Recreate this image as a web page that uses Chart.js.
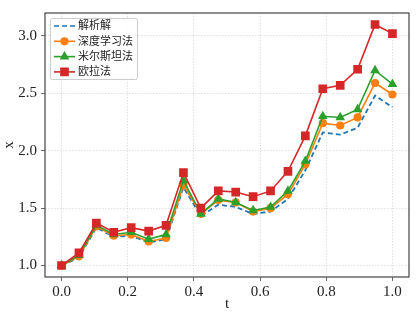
<!DOCTYPE html>
<html>
<head>
<meta charset="utf-8">
<script src="https://cdn.jsdelivr.net/npm/chart.js@4.4.1/dist/chart.umd.min.js"></script>
<style>
  html, body { margin: 0; padding: 0; background: #fff; }
  #wrap { width: 416px; height: 316px; }
</style>
</head>
<body>
<div id="wrap"><canvas id="c" width="416" height="316"></canvas></div>
<script>
// time grid (20 points on [0, 1])
const tValues = [0, 0.0526, 0.1053, 0.1579, 0.2105, 0.2632, 0.3158, 0.3684, 0.4211, 0.4737,
  0.5263, 0.5789, 0.6316, 0.6842, 0.7368, 0.7895, 0.8421, 0.8947, 0.9474, 1.0]

const analytic = [1.00, 1.07, 1.33, 1.25, 1.26, 1.20, 1.23, 1.68, 1.43, 1.53,
  1.51, 1.45, 1.47, 1.58, 1.83, 2.16, 2.14, 2.20, 2.48, 2.38]
const deepLearning = [1.00, 1.08, 1.34, 1.26, 1.27, 1.21, 1.24, 1.70, 1.45, 1.57,
  1.55, 1.47, 1.50, 1.62, 1.88, 2.24, 2.22, 2.29, 2.59, 2.49]
const milstein = [1.00, 1.09, 1.35, 1.27, 1.29, 1.23, 1.27, 1.74, 1.45, 1.58,
  1.55, 1.48, 1.51, 1.65, 1.91, 2.30, 2.29, 2.36, 2.70, 2.58]
const euler = [1.00, 1.11, 1.37, 1.29, 1.33, 1.30, 1.35, 1.81, 1.50, 1.65,
  1.64, 1.60, 1.65, 1.82, 2.13, 2.54, 2.57, 2.71, 3.10, 3.02]

const seriesNames = ['解析解', '深度学习法', '米尔斯坦法', '欧拉法']
const xTicks = [0, 0.2, 0.4, 0.6, 0.8, 1.0]
const yTicks = [1.0, 1.5, 2.0, 2.5, 3.0]

const toPoints = (ys) => ys.map((y, i) => ({ x: tValues[i], y: y }))

const serif = '"Liberation Serif", "DejaVu Serif", serif'
const cjk = '"Liberation Serif", "Noto Sans CJK SC", serif'

// legend drawn inside the plot area, top-left, matplotlib style
const boxLegend = {
  id: 'boxLegend',
  afterDraw(chart) {
    const ctx = chart.ctx
    const area = chart.chartArea
    const x0 = area.left + 5, y0 = area.top + 5
    const w = 87, h = 61
    ctx.save()
    ctx.fillStyle = 'rgba(255,255,255,0.85)'
    ctx.strokeStyle = '#cccccc'
    ctx.lineWidth = 1
    ctx.beginPath()
    ctx.roundRect(x0 + 0.5, y0 + 0.5, w, h, 2)
    ctx.fill()
    ctx.stroke()
    ctx.font = '11px ' + cjk
    ctx.textBaseline = 'middle'
    chart.data.datasets.forEach((ds, i) => {
      const cy = y0 + 8 + i * 15.3
      ctx.strokeStyle = ds.borderColor
      ctx.lineWidth = 1.6
      ctx.setLineDash(ds.borderDash || [])
      ctx.beginPath()
      ctx.moveTo(x0 + 4, cy)
      ctx.lineTo(x0 + 25, cy)
      ctx.stroke()
      ctx.setLineDash([])
      if (ds.pointRadius > 0) {
        ctx.fillStyle = ds.backgroundColor
        ctx.strokeStyle = ds.borderColor
        Chart.helpers.drawPoint(ctx, {
          pointStyle: ds.pointStyle, radius: ds.pointRadius, borderWidth: 1, rotation: 0
        }, x0 + 14.5, cy)
      }
      ctx.fillStyle = '#222'
      ctx.fillText(seriesNames[i], x0 + 28, cy + 0.5)
    })
    ctx.restore()
  }
}

// full box around the plot area
const frame = {
  id: 'frame',
  afterDatasetsDraw(chart) {
    const ctx = chart.ctx
    const a = chart.chartArea
    ctx.save()
    ctx.strokeStyle = '#444'
    ctx.lineWidth = 1.2
    ctx.strokeRect(a.left, a.top, a.right - a.left, a.bottom - a.top)
    ctx.restore()
  }
}

new Chart(document.getElementById('c'), {
  type: 'line',
  data: {
    datasets: [
      {
        label: seriesNames[0], data: toPoints(analytic),
        borderColor: '#1f77b4', backgroundColor: '#1f77b4',
        borderWidth: 1.8, borderDash: [5, 3], pointRadius: 0, order: 4
      },
      {
        label: seriesNames[1], data: toPoints(deepLearning),
        borderColor: '#ff7f0e', backgroundColor: '#ff7f0e',
        borderWidth: 1.6, pointStyle: 'circle', pointRadius: 3.3, order: 3
      },
      {
        label: seriesNames[2], data: toPoints(milstein),
        borderColor: '#2ca02c', backgroundColor: '#2ca02c',
        borderWidth: 1.6, pointStyle: 'triangle', pointRadius: 4, order: 2
      },
      {
        label: seriesNames[3], data: toPoints(euler),
        borderColor: '#d62728', backgroundColor: '#d62728',
        borderWidth: 1.6, pointStyle: 'rect', pointRadius: 5, order: 1
      }
    ]
  },
  options: {
    responsive: false,
    animation: false,
    devicePixelRatio: 1,
    layout: { padding: { top: 6, right: 7, left: 0, bottom: 0 } },
    elements: { line: { tension: 0 }, point: { borderWidth: 1, hoverRadius: 0 } },
    plugins: { legend: { display: false }, tooltip: { enabled: false } },
    scales: {
      x: {
        type: 'linear', min: -0.05, max: 1.05,
        afterBuildTicks: (scale) => { scale.ticks = xTicks.map((v) => ({ value: v })) },
        afterFit: (scale) => { scale.height = 39 },
        grid: { color: '#d8d8d8', tickColor: '#444', tickLength: 4, lineWidth: 0.8 },
        border: { display: false, dash: [1.5, 1.5] },
        ticks: {
          color: '#222', font: { family: serif, size: 15 }, padding: 2, maxRotation: 0,
          callback: (v) => v.toFixed(1)
        },
        title: { display: true, text: 't', color: '#222', font: { family: serif, size: 15 }, padding: { top: 0, bottom: 3 } }
      },
      y: {
        type: 'linear', min: 0.9, max: 3.2,
        afterBuildTicks: (scale) => { scale.ticks = yTicks.map((v) => ({ value: v })) },
        afterFit: (scale) => { scale.width = 45 },
        grid: { color: '#d8d8d8', tickColor: '#444', tickLength: 4, lineWidth: 0.8 },
        border: { display: false, dash: [1.5, 1.5] },
        ticks: {
          color: '#222', font: { family: serif, size: 15 }, padding: 4,
          callback: (v) => v.toFixed(1)
        },
        title: { display: true, text: 'x', color: '#222', font: { family: serif, size: 15 }, padding: { top: 0, bottom: 0 } }
      }
    }
  },
  plugins: [frame, boxLegend]
})
</script>
</body>
</html>
